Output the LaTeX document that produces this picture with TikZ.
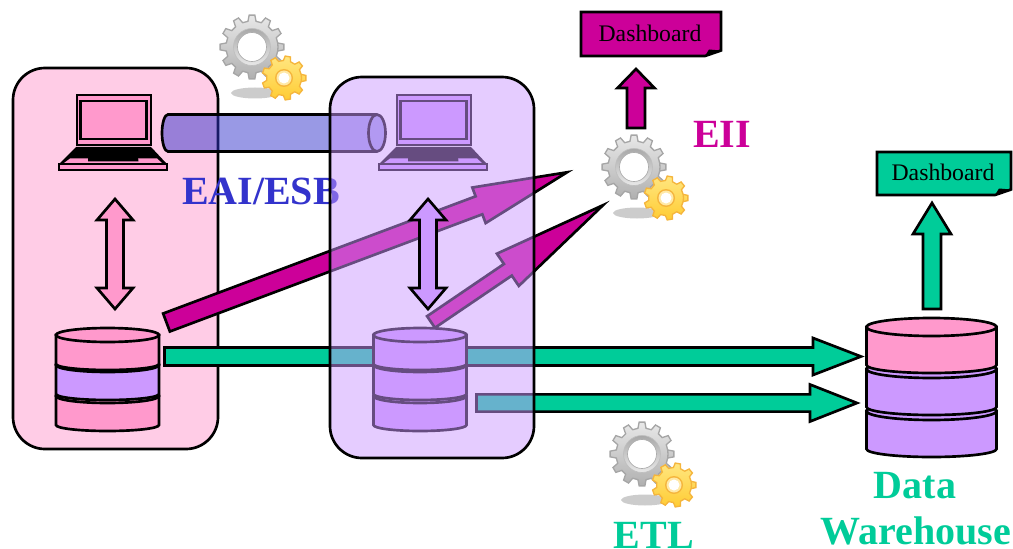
\documentclass[tikz,border=0pt]{standalone}
\usepackage{fontspec}
\setmainfont{Liberation Serif}
\usetikzlibrary{calc}
\definecolor{pinkC}{HTML}{FF99CC}
\definecolor{purpleC}{HTML}{CC99FF}
\definecolor{greenC}{HTML}{00CC99}
\definecolor{magentaC}{HTML}{CC0099}
\definecolor{blueC}{HTML}{3333CC}
\definecolor{goldA}{HTML}{FFE680}
\definecolor{goldB}{HTML}{FFCC33}
\definecolor{goldC}{HTML}{F5B53C}
\definecolor{goldD}{HTML}{FFE9A6}
\newcommand\pxu{0.75pt}
% #1 style, #2 from, #3 tip, #4 half shaft, #5 half head, #6 head length (px)
\newcommand\blockarrow[6]{
  \coordinate (bah) at ($(#3)!#6*\pxu!(#2)$);
  \draw[#1] ($(#2)!#4*\pxu!90:(#3)$) -- ($(bah)!#4*\pxu!90:(#3)$) -- ($(bah)!#5*\pxu!90:(#3)$) -- (#3)
    -- ($(bah)!#5*\pxu!-90:(#3)$) -- ($(bah)!#4*\pxu!-90:(#3)$) -- ($(#2)!#4*\pxu!-90:(#3)$) -- cycle;
}
\newcommand\doublearrow[6]{
  \coordinate (bha) at ($(#2)!#6*\pxu!(#3)$);
  \coordinate (bhb) at ($(#3)!#6*\pxu!(#2)$);
  \draw[#1] (#2) -- ($(bha)!#5*\pxu!90:(#2)$) -- ($(bha)!#4*\pxu!90:(#2)$) -- ($(bhb)!#4*\pxu!-90:(#3)$)
    -- ($(bhb)!#5*\pxu!-90:(#3)$) -- (#3) -- ($(bhb)!#5*\pxu!90:(#3)$) -- ($(bhb)!#4*\pxu!90:(#3)$)
    -- ($(bha)!#4*\pxu!-90:(#2)$) -- ($(bha)!#5*\pxu!-90:(#2)$) -- cycle;
}
% #1 teeth, #2 outer, #3 root
\newcommand\gearpath[3]{
  (0:#3) \foreach \i in {0,...,#1}{
    -- ({(\i-0.30)*360/#1}:#3) -- ({(\i-0.17)*360/#1}:#2) -- ({(\i+0.17)*360/#1}:#2) -- ({(\i+0.30)*360/#1}:#3)
  } -- cycle
}
% #1 style, #2 x, #3 top y, #4 half width, #5 side height, #6 ry top, #7 ry bottom
\newcommand\cylseg[7]{
  \draw[#1] (#2-#4,#3) -- (#2-#4,#3+#5) arc[start angle=180,end angle=360,x radius=#4,y radius=-#7]
    -- (#2+#4,#3) -- cycle;
  \draw[#1] (#2,#3) ellipse[x radius=#4,y radius=#6];
}
\newcommand\cylstack[9]{
  % #1 top fill, #2 mid fill, #3 low fill, #4 x, #5 half w, #6 y1, #7 y2, #8 y3, #9 seg h
  \cylseg{cylline,fill=#3}{#4}{#8}{#5}{#9}{\cylry}{\cylrb}
  \cylseg{cylline,fill=#2}{#4}{#7}{#5}{#9}{\cylry}{\cylrb}
  \cylseg{cylline,fill=#1}{#4}{#6}{#5}{#9}{\cylry}{\cylrb}
}
\newcommand\dashcard[6]{
  % #1 name, #2 x1, #3 y1, #4 x2, #5 y2, #6 colour
  \draw[line width=2pt,line join=miter,fill=#6] (#2,#3) -- (#4,#3) -- (#4,#5-5.5) -- (#4-16,#5) -- (#2,#5) -- cycle;
  \fill[black] (#4,#5-5.5) -- (#4-16,#5) -- (#4-12,#5-6.5) -- cycle;
  \node[font=\fontsize{17.8}{20}\selectfont,inner sep=0pt] (#1) at ({(#2+#4)/2-1},{(#3+#5)/2-1}) {Dashboard};
}
\tikzset{
  boxline/.style={line width=2pt},
  cylline/.style={line width=2pt},
  arrowline/.style={line width=2pt,line join=miter,miter limit=12},
  biglabel/.style={font=\fontsize{30}{32}\selectfont\bfseries,inner sep=0pt,anchor=base},
  pics/gearset/.style={code={
    \fill[gray!40] (3,46) ellipse[x radius=24,y radius=5.5];
    \shade[shading angle=20,top color=gray!18,bottom color=gray!62,draw=gray!70,line width=1pt] \gearpath{12}{32}{26};
    \shade[top color=gray!68,bottom color=gray!18,draw=gray!50,line width=.5pt] (0,0) circle[radius=18.5];
    \fill[white,draw=gray!65,line width=.5pt] (0,0) circle[radius=14.5];
    \begin{scope}[shift={(32,31)}]
      \shade[top color=goldA,bottom color=goldB,draw=goldC,line width=1pt] \gearpath{9}{22}{17.5};
      \fill[goldC] (0,0) circle[radius=9];
      \fill[goldD] (0,0) circle[radius=7.5];
      \fill[white] (0,0) circle[radius=5.5];
    \end{scope}
  }},
  pics/laptop/.style={code={
    \draw[fill=#1,line width=1.5pt] (76.5,95.5) rectangle (150.5,145);
    \draw[fill=#1,line width=1.7pt] (80.5,101) rectangle (146.5,139);
    \fill[black] (76,147) -- (151,147) -- (166,163) -- (60,163) -- cycle;
    \fill[#1] (70,158.5) -- (157,158.5) -- (162,163) -- (64,163) -- cycle;
    \fill[black] (88,157.5) -- (138,157.5) -- (138.5,161.5) -- (88,161.5) -- cycle;
    \draw[fill=#1,line width=1.5pt] (59,164) rectangle (167,170);
  }}
}
\begin{document}
\begin{tikzpicture}[x=0.75pt,y=-0.75pt]
\useasboundingbox (0,0) rectangle (1013,549);
% source one
\draw[boxline,fill=pinkC!50!white,rounded corners=24pt] (13,68) rectangle (218,449);
\pic at (0,0) {laptop=pinkC};
\coordinate (pa) at (115,199);
\coordinate (pb) at (115,309);
\doublearrow{arrowline,fill=pinkC}{pa}{pb}{8.5}{18}{21}
\def\cylry{7}\def\cylrb{6}
\cylstack{pinkC}{purpleC}{pinkC}{107.5}{51.5}{335}{365}{396}{29}
% gears, tube
\pic at (252,47) {gearset};
\fill[blueC,fill opacity=.5] (168,114.5) arc[start angle=90,end angle=270,x radius=6,y radius=-18.5] -- (377,151.5) arc[start angle=270,end angle=90,x radius=9,y radius=-18.5] -- cycle;
\fill[blueC,fill opacity=.5] (377,133) ellipse[x radius=8.5,y radius=18.5];
\draw[boxline] (377,114.5) -- (168,114.5) arc[start angle=90,end angle=270,x radius=6,y radius=-18.5] -- (377,151.5);
\draw[boxline] (377,133) ellipse[x radius=8.5,y radius=18.5];
\node[biglabel,text=blueC] (eai) at (261,204.5) {EAI/ESB};
% flows
\coordinate (m1a) at (166.5,322.5);
\coordinate (m1b) at (567,172.3);
\blockarrow{arrowline,fill=magentaC}{m1a}{m1b}{9.6}{19}{94}
\coordinate (m2a) at (431,322);
\coordinate (m2b) at (603,205.2);
\blockarrow{arrowline,fill=magentaC}{m2a}{m2b}{7}{19.5}{115}
\coordinate (g1a) at (164.5,356.5);
\coordinate (g1b) at (861,356.5);
\blockarrow{arrowline,fill=greenC}{g1a}{g1b}{9}{18.5}{48}
\coordinate (g2a) at (476.5,403);
\coordinate (g2b) at (857,403);
\blockarrow{arrowline,fill=greenC}{g2a}{g2b}{8.6}{18.5}{47}
% source two, veiled by its box
\pic at (320,0) {laptop=purpleC};
\cylstack{purpleC}{purpleC}{purpleC}{420}{46.5}{335}{365}{396}{29}
\draw[boxline,fill=purpleC,fill opacity=.5,rounded corners=24pt] (330,77) rectangle (534,458);
\coordinate (qa) at (428,199);
\coordinate (qb) at (428,309);
\doublearrow{arrowline,fill=purpleC}{qa}{qb}{8.5}{18}{21}
% EII
\pic at (634,167) {gearset};
\coordinate (m3a) at (636,128);
\coordinate (m3b) at (636,69);
\blockarrow{arrowline,fill=magentaC}{m3a}{m3b}{9}{18.5}{19}
\dashcard{dash1}{581}{12}{721}{56}{magentaC}
\node[biglabel,text=magentaC] (eii) at (722,148) {EII};
% warehouse
\def\cylry{9}\def\cylrb{8}
\cylstack{pinkC}{purpleC}{purpleC}{931.5}{65}{327}{369}{411}{38}
\coordinate (g3a) at (932,309);
\coordinate (g3b) at (932,203);
\blockarrow{arrowline,fill=greenC}{g3a}{g3b}{9}{19}{31}
\dashcard{dash2}{877}{152}{1011}{195}{greenC}
\pic at (642,454) {gearset};
\node[biglabel,text=greenC] (etl) at (654,548) {ETL};
\node[biglabel,text=greenC] (dw1) at (915,498) {Data};
\node[biglabel,text=greenC] (dw2) at (916,544.5) {Warehouse};
\end{tikzpicture}
\end{document}
